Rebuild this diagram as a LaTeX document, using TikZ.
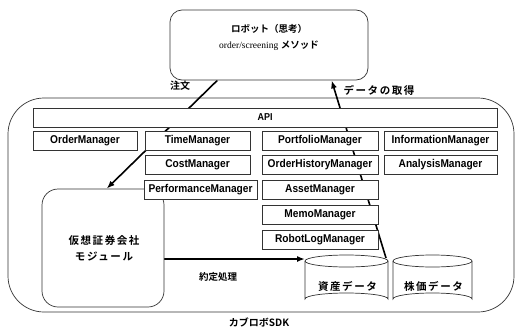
\documentclass[tikz,border=0pt]{standalone}
\usepackage{fontspec}
\setmainfont{Liberation Serif}
\newfontfamily\jpb{Noto Sans CJK JP Bold}
\newfontfamily\jpbs{Noto Sans CJK JP Bold}[LetterSpace=15]
\newfontfamily\mgrfont{Liberation Sans}[FakeStretch=0.9]
\usetikzlibrary{arrows.meta,backgrounds,calc}

\begin{document}
\begin{tikzpicture}[x=1pt,y=-1pt,
  thinline/.style={draw=black!80, line width=0.7pt},
  mgr/.style={thinline, fill=white, inner sep=0pt, minimum height=19,
    font=\mgrfont\bfseries\fontsize{11.3}{12}\selectfont},
  roundbox/.style={thinline, fill=white, inner sep=0pt},
  jplabel/.style={inner sep=0pt, font=\jpb\fontsize{10}{12}\selectfont},
  jpbig/.style={inner sep=0pt, align=center, font=\jpbs\fontsize{10.5}{16}\selectfont},
  conn/.style={line width=1.6pt, black},
  tip/.style={-{Latex[length=8pt,width=6pt]}}]

\useasboundingbox (0,0) rectangle (518,329);

% Robot (strategy) box
\node[roundbox, rounded corners=12pt, minimum width=198, minimum height=70] (robot) at (269,45) {};
\node[inner sep=0pt, align=center] (robottext) at (269,37)
  {{\jpb\fontsize{9.5}{12}\selectfont ロボット（思考）}\\[4pt]
   {\fontsize{9.5}{12}\selectfont order/screening} {\jpb\fontsize{9.5}{12}\selectfont メソッド}};

% API bar
\node[mgr, minimum width=464, font=\mgrfont\bfseries\fontsize{10}{12}\selectfont] (api) at (265,117.5) {API};

% Manager boxes
\node[mgr, minimum width=104] (order) at (85,140.5) {OrderManager};
\node[mgr, minimum width=105] (time) at (197.5,140.5) {TimeManager};
\node[mgr, minimum width=116] (portfolio) at (320,140.5) {PortfolioManager};
\node[mgr, minimum width=113] (info) at (440.5,140.5) {InformationManager};

\node[mgr, minimum width=105] (cost) at (197.5,164.5) {CostManager};
\node[mgr, minimum width=116] (orderhist) at (320,164.5) {OrderHistoryManager};
\node[mgr, minimum width=113] (analysis) at (440.5,164.5) {AnalysisManager};

% Virtual brokerage module (drawn before PerformanceManager, which overlaps its corner)
\node[roundbox, rounded corners=16pt, minimum width=122, minimum height=118] (virtual) at (103,248) {};
\node[jpbig] (virtualtext) at (104,248) {仮想証券会社\\モジュール};

\node[mgr, minimum width=113] (perf) at (200.5,189.5) {PerformanceManager};
\node[mgr, minimum width=116] (asset) at (320,189.5) {AssetManager};
\node[mgr, minimum width=116] (memo) at (320,214.5) {MemoManager};
\node[mgr, minimum width=116] (robotlog) at (320,239.5) {RobotLogManager};

% Databases
\draw[thinline, fill=white] (305,261) -- (305,299)
  arc[start angle=180, end angle=360, x radius=41.5, y radius=6] -- (388,261);
\draw[thinline] (346.5,261) ellipse[x radius=41.5, y radius=6];
\node[jpbig] (assetdb) at (347.5,286) {資産データ};
\coordinate (assettop) at (386,258);
\coordinate (assetin) at (305,259);

\draw[thinline, fill=white] (393,261) -- (393,299)
  arc[start angle=180, end angle=360, x radius=39.5, y radius=6] -- (472,261);
\draw[thinline] (432.5,261) ellipse[x radius=39.5, y radius=6];
\node[jpbig] (pricedb) at (433.5,286) {株価データ};

% Labels
\node[jplabel] (lblorder) at (180,86) {注文};
\node[jplabel, font=\jpbs\fontsize{10.5}{12}\selectfont] (lbldata) at (379,90) {データの取得};
\node[jplabel, font=\jpb\fontsize{9.5}{12}\selectfont] (lblexec) at (218,277) {約定処理};
\node[jplabel] (lblsdk) at (259,322) {カブロボSDK};

\begin{pgfonlayer}{background}
  \fill[white] (0,0) rectangle (518,329);
  % SDK frame
  \draw[thinline, rounded corners=36pt] (8,98) rectangle (514,312);
  % Order flow: robot -> virtual brokerage
  \draw[conn, tip] ($(robot.south west)!0.24!(robot.south east)$)
    -- ($(virtual.north west)!0.53!(virtual.north east)$);
  % Data retrieval: asset data -> robot
  \draw[conn, tip] (assettop) -- ($(robot.south west)!0.815!(robot.south east)$);
  % Execution: virtual brokerage -> asset data
  \draw[conn, tip] (virtual.east |- assetin) -- (assetin);
\end{pgfonlayer}
\end{tikzpicture}
\end{document}
